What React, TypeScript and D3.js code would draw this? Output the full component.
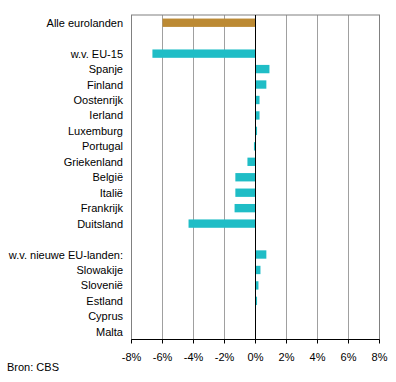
import React from "react";
import * as d3 from "d3";

const categories = [
  "Alle eurolanden", "", "w.v. EU-15", "Spanje", "Finland", "Oostenrijk", "Ierland",
  "Luxemburg", "Portugal", "Griekenland", "België", "Italië", "Frankrijk", "Duitsland",
  " ", "w.v. nieuwe EU-landen:", "Slowakije", "Slovenië", "Estland", "Cyprus", "Malta",
];
const values: (number | null)[] = [
  -6.0, null, -6.65, 0.9, 0.7, 0.26, 0.26,
  0.1, -0.1, -0.52, -1.3, -1.3, -1.35, -4.32,
  null, 0.7, 0.32, 0.19, 0.1, 0, 0,
];
const tickValues = [-8, -6, -4, -2, 0, 2, 4, 6, 8];
const source = "Bron: CBS";

export default function App() {
  const W = 396, H = 382;
  const left = 131.5, right = 379.5, top = 15, bottom = 339.5;
  const x = d3.scaleLinear().domain([-8, 8]).range([left, right]);
  const y = d3.scaleBand().domain(categories).range([top, bottom]).paddingInner(0.46).paddingOuter(0.23);
  const font = "Liberation Sans, Arial, sans-serif";
  return (
    <svg width={W} height={H} style={{ position: "absolute", left: 0, top: 0 }}>
      <rect width={W} height={H} fill="#fff" />
      {tickValues.map((t) => (
        <line key={"g" + t} x1={x(t)} x2={x(t)} y1={top} y2={bottom} stroke={t === 0 ? "none" : "#a0a0a0"} strokeWidth={1} />
      ))}
      <rect x={left} y={top} width={right - left} height={bottom - top} fill="none" stroke="#808080" strokeWidth={1} />
      {categories.map((c, i) => {
        const v = values[i];
        if (v === null || v === 0) return null;
        const x0 = Math.min(x(0), x(v));
        const w = Math.abs(x(v) - x(0));
        return (
          <rect key={"b" + i} x={x0} y={y(c)!} width={w} height={y.bandwidth()} fill={i === 0 ? "#BC8A34" : "#1FBDC6"} />
        );
      })}
      <line x1={x(0)} x2={x(0)} y1={top} y2={bottom} stroke="#000" strokeWidth={1} />
      <line x1={left} x2={right} y1={bottom} y2={bottom} stroke="#000" strokeWidth={1} />
      {tickValues.map((t) => (
        <g key={"t" + t}>
          <line x1={x(t)} x2={x(t)} y1={bottom} y2={bottom + 4} stroke="#000" />
          <text x={x(t)} y={bottom + 21} textAnchor="middle" fontFamily={font} fontSize={11} fill="#000">
            {t + "%"}
          </text>
        </g>
      ))}
      {categories.map((c, i) => (
        c.trim() ? (
          <text key={"l" + i} x={123} y={y(c)! + y.bandwidth() / 2 + 4} textAnchor="end" fontFamily={font} fontSize={11} fill="#000">
            {c}
          </text>
        ) : null
      ))}
      <text x={7} y={371} fontFamily={font} fontSize={11} fill="#000">{source}</text>
    </svg>
  );
}
